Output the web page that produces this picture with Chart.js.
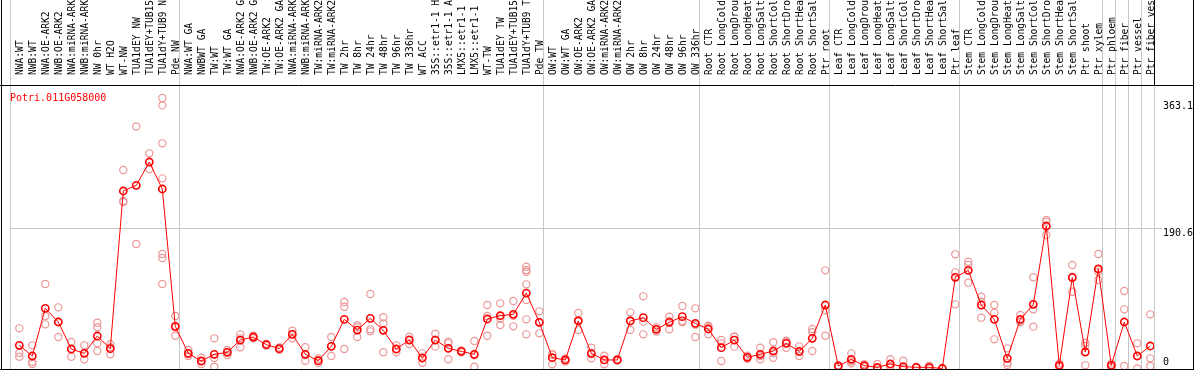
<!DOCTYPE html>
<html><head><meta charset="utf-8">
<script src="https://cdn.jsdelivr.net/npm/chart.js@4/dist/chart.umd.min.js"></script>
<style>html,body{margin:0;padding:0;background:#fff;overflow:hidden;}#wrap{width:1194px;height:370px;}</style>
</head><body><div id="wrap"><canvas id="c" width="1194" height="370"></canvas></div>
<script>
const geneId = 'Potri.011G058000';
const categories = [
 'NWA:WT','NWB:WT','NWA:OE-ARK2','NWB:OE-ARK2','NWA:miRNA-ARK2','NWB:miRNA-ARK2','NW 0hr','WT H2O','WT-NW','TUA1dEY NW','TUA1dEY+TUB15 NW','TUA1dY+TUB9 NW','Pde NW',
 'NWA:WT GA','NWBWT GA','TW:WT','TW:WT GA','NWA:OE-ARK2 GA','NWB:OE-ARK2 GA','TW:OE-ARK2','TW:OE-ARK2 GA','NWA:miRNA-ARK2','NWB:miRNA-ARK2','TW:miRNA-ARK2','TW:miRNA-ARK2',
 'TW 2hr','TW 8hr','TW 24hr','TW 48hr','TW 96hr','TW 336hr','WT ACC','35S::etr1-1 H2O','35S::etr1-1 ACC','LMX5::etr1-1 H2O','LMX5::etr1-1 ACC','WT-TW','TUA1dEY TW','TUA1dEY+TUB15 TW','TUA1dY+TUB9 TW','Pde TW',
 'OW:WT','OW:WT GA','OW:OE-ARK2','OW:OE-ARK2 GA','OW:miRNA-ARK2','OW:miRNA-ARK2','OW 2hr','OW 8hr','OW 24hr','OW 48hr','OW 96hr','OW 336hr',
 'Root CTR','Root LongCold','Root LongDrought','Root LongHeat','Root LongSalt','Root ShortCold','Root ShortDrought','Root ShortHeat','Root ShortSalt','Ptr root',
 'Leaf CTR','Leaf LongCold','Leaf LongDrought','Leaf LongHeat','Leaf LongSalt','Leaf ShortCold','Leaf ShortDrought','Leaf ShortHeat','Leaf ShortSalt','Ptr leaf',
 'Stem CTR','Stem LongCold','Stem LongDrought','Stem LongHeat','Stem LongSalt','Stem ShortCold','Stem ShortDrought','Stem ShortHeat','Stem ShortSalt','Ptr shoot','Ptr xylem',
 'Ptr phloem','Ptr fiber','Ptr vessel','Ptr fiber vessel'
];
const meanValues = [
 31.5,17,81.8,63.2,26.5,20.6,44.2,27,241.3,249,280.7,244,57.3,
 20.6,10.2,19.3,22,38.7,42.8,32.4,27,46.4,19.3,10.6,30.1,66.8,52.3,68.2,51.9,26.5,38.7,14.3,38.7,27.4,23.3,19.3,67.3,71.8,73.6,102.6,62.8,
 14.7,11.6,64.6,20.6,11.6,11.6,64.6,69.1,53.2,62.8,70.5,61.4,
 53.7,28.3,38.7,15.2,19.3,23.8,34.2,23.3,41,86.3,
 3.4,12.5,3.9,1.6,6.1,2.5,1.6,1.6,0,124,
 133.4,86.3,66.8,13.8,66.8,87.2,193.7,4.3,123.5,22.4,135.3,
 4.3,63.2,17,30.6
];
const replicateValues = [
 [54.6,21.5,16.1],[31.5,9.2,6.1],[114.9,71.4,60],[83.1,63.7,42.8],[36,26,16.1],[31.5,20.6,12.5],[62.3,56,34.2,23.8],[33,28.8,19.3],
 [269.8,227.7,226.4],[329,169.2],[292.5,271.2],[367.7,357.7,306.1,258.5,155.6,150.2,114.9],[71.4,56,44.6],
 [25.1,19.7,17],[14.7,9.8,6.1],[41,14.4,2.5],[25.1,22.5,18.4],[46.4,41,28.8],[44.5,42.8,41.1],[33.5,32.4,31.3],[28.5,27,25.5],
 [51.4,46.8,41],[28.8,18.5,10.6],[13.6,10.6,7.7],[42.8,30.5,17],[90.4,84,26.5],[58.7,56,42.8],[101.3,53.2,50.5],[69.6,61.4,22],
 [31.5,26,22],[43.3,39.5,33.3],[20.6,14.3,7.9],[47.3,39.2,29.7],[36.5,34.2,12.5],[24.5,23.3,22.1],[37.4,18,2.5],[86.3,71.4,44.6],
 [88.6,67.7,59.1],[91.8,71.7,57.3],[138.4,133.9,131.6,114.4,93.1,66.8,46.4],[77.7,62.8,47.8],
 [19.3,19.1,5.7],[13.6,11.6,9.5],[75.4,66,52.3],[28.3,19.7,13.8],[17.4,11.6,5.7],[12.5,11.6,10.7],[76.3,65,52.3],[98.1,63.7,46.4],
 [56,53.2,50.3],[70.5,64.7,53.2],[84.9,64.6,62.8],[81.8,59.6,42.8],
 [58.2,56.5,46.4],[38.7,34.2,10.2],[43.3,43.1,29.7],[17.4,15.2,13.1],[28.3,17.1,12.5],[35.6,21.1,14.7],[37.8,36.5,28.3],[30.1,22.8,17],[53.7,49.2,23.8],[133.4,79.1,44.6],
 [4.5,3.4,2.3],[20.6,9.9,7],[5.7,3.5,2.5],[6.1,0.5,0],[12.5,3.3,2.5],[10.6,0,0],[2,1.6,1.2],[3.9,0.8,0],[0,0,0],[155.2,130.7,87.2],
 [145.2,140.7,116.7],[97.6,90.8,69.1],[86.3,75.9,39.6],[27.4,7.9,4.8],[72.7,65,62.8],[124,80.4,56.9],[201.9,199.6,181.5],[7,3.4,2.5],[140.7,124.8,104.4],[35.1,30.6,4.3],[155.6,131.6,120.3],
 [7,4.3,1.6],[105.3,80.4,3.4],[34.2,17,0],[73.6,13.8,3.4]
];
const yTickValues = [0, 190.6, 363.1];
const yTickLabels = ['0', '190.6', '363.1'];
const groupBoundaries = [0, 13, 41, 53, 63, 73, 84, 85, 86, 87, 88];

const X_MIN = -0.715, X_MAX = 88 + X_MIN;
const Y_MIN = -0.68, Y_MAX = 385.4;
const MONO = '"DejaVu Sans Mono", "Liberation Mono", monospace';
const GRID = '#c8c8c8';

const meanPoints = meanValues.map((v, i) => ({x: i, y: v}));
const repPoints = [];
replicateValues.forEach((arr, i) => arr.forEach(v => repPoints.push({x: i, y: v})));

const framePlugin = {
  id: 'frame',
  beforeDraw(chart) {
    const {ctx, chartArea, scales: {x}} = chart;
    ctx.save();
    ctx.strokeStyle = GRID; ctx.lineWidth = 1;
    groupBoundaries.forEach(k => {
      const px = Math.round(x.getPixelForValue(k + X_MIN)) + 0.5;
      ctx.beginPath(); ctx.moveTo(px, 0); ctx.lineTo(px, chartArea.bottom); ctx.stroke();
    });
    ctx.restore();
  },
  afterDraw(chart) {
    const {ctx, chartArea, width, height, scales: {x, y}} = chart;
    ctx.save();
    ctx.strokeStyle = '#000'; ctx.lineWidth = 1;
    const top = Math.round(chartArea.top) + 0.5, bot = Math.round(chartArea.bottom) + 0.5;
    ctx.beginPath();
    ctx.moveTo(0, top); ctx.lineTo(width, top);
    ctx.moveTo(0, bot); ctx.lineTo(width, bot);
    ctx.moveTo(1.5, 0); ctx.lineTo(1.5, height);
    ctx.moveTo(width - 0.5, 0); ctx.lineTo(width - 0.5, height);
    const rx = Math.round(x.getPixelForValue(groupBoundaries[groupBoundaries.length - 1] + X_MIN)) + 0.5;
    ctx.moveTo(rx, 0); ctx.lineTo(rx, top);
    ctx.stroke();
    ctx.font = '10px ' + MONO;
    ctx.textAlign = 'left';
    ctx.fillStyle = '#000';
    ctx.textBaseline = 'middle';
    yTickValues.forEach((v, i) => {
      const py = y.getPixelForValue(v);
      ctx.fillText(yTickLabels[i], chartArea.right + 9, i === 0 ? py - 6 : py + 5);
    });
    ctx.fillStyle = '#ff0000';
    ctx.textBaseline = 'top';
    ctx.fillText(geneId, chartArea.left, chartArea.top + 8);
    ctx.restore();
  }
};

new Chart(document.getElementById('c'), {
  type: 'line',
  data: {
    datasets: [
      {
        label: 'mean', data: meanPoints,
        borderColor: '#ff0000', borderWidth: 1,
        pointRadius: 3.6, pointBorderWidth: 1.6,
        pointBorderColor: '#ff0000', pointBackgroundColor: 'rgba(0,0,0,0)',
        tension: 0, fill: false
      },
      {
        label: 'replicates', data: repPoints, showLine: false,
        pointRadius: 3.6, pointBorderWidth: 1.2,
        pointBorderColor: '#eb9797', pointBackgroundColor: 'rgba(0,0,0,0)'
      }
    ]
  },
  options: {
    responsive: false, animation: false, devicePixelRatio: 1,
    layout: {autoPadding: false, padding: {left: 10, right: 0, top: 0, bottom: 1}},
    plugins: {legend: {display: false}, tooltip: {enabled: false}},
    scales: {
      x: {
        type: 'linear', position: 'top', min: X_MIN, max: X_MAX,
        afterBuildTicks: s => { s.ticks = categories.map((_, i) => ({value: i})); },
        afterFit: s => { s.height = 85; s.paddingLeft = 0; s.paddingRight = 0; },
        grid: {display: false}, border: {display: false},
        ticks: {
          autoSkip: false, minRotation: 90, maxRotation: 90, padding: 2, labelOffset: 13,
          color: '#000', font: {family: MONO, size: 9.6},
          callback: v => categories[v]
        }
      },
      y: {
        type: 'linear', position: 'right', min: Y_MIN, max: Y_MAX,
        afterBuildTicks: s => { s.ticks = yTickValues.map(v => ({value: v})); },
        afterFit: s => { s.width = 40; s.paddingTop = 0; s.paddingBottom = 0; },
        border: {display: false},
        grid: {
          color: c => (c.tick && c.tick.value === yTickValues[1]) ? GRID : 'rgba(0,0,0,0)',
          tickLength: 8, drawTicks: true
        },
        ticks: {display: false}
      }
    }
  },
  plugins: [framePlugin]
});
</script></body></html>
